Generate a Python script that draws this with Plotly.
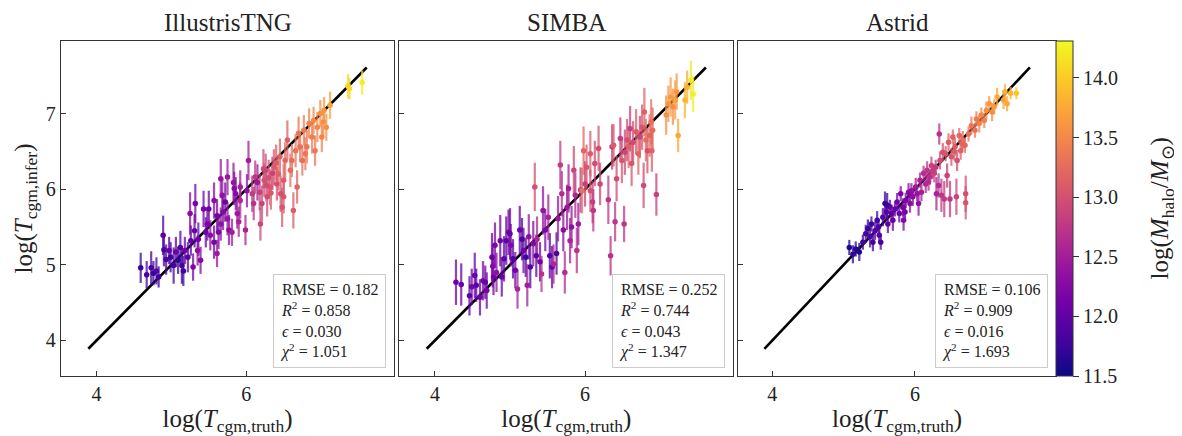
import plotly.graph_objects as go
from plotly.colors import sample_colorscale

# ---- IllustrisTNG: truth, inferred, 1-sigma, log halo mass
tng_truth = [4.59, 4.67, 4.73, 4.76, 4.80, 4.83, 4.89, 4.90, 4.93, 4.97, 4.99, 5.03, 5.06, 5.09, 5.12, 5.14,
             5.16, 5.18, 5.22, 5.25, 5.26, 5.29, 5.31, 5.32, 5.35, 5.36, 5.39, 5.43, 5.46, 5.48, 5.50, 5.52,
             5.57, 5.61, 5.63, 5.66, 5.69, 5.72, 5.75, 5.77, 5.81, 5.83, 5.86, 5.88, 5.92, 5.99, 6.01, 6.03,
             6.10, 6.15, 6.19, 6.23, 5.57, 5.61, 5.66, 5.68, 5.75, 5.84, 5.90, 5.92, 6.08, 6.18, 6.24, 6.26,
             6.28, 6.32, 6.35, 6.37, 6.41, 6.45, 6.48, 6.50, 6.52, 6.55, 6.59, 6.63, 6.66, 6.68, 6.70, 6.75,
             6.77, 6.81, 6.84, 6.88, 6.90, 6.92, 6.95, 6.99, 7.01, 7.04, 7.07, 7.12, 7.36, 7.38, 7.55, 6.12,
             6.21, 6.46, 6.61, 6.72, 6.79, 7.03, 6.30, 6.33, 6.27, 6.40, 6.43, 6.50]
tng_infer = [4.96, 4.87, 4.96, 4.89, 4.92, 4.84, 5.39, 5.20, 5.07, 5.19, 5.10, 4.99, 5.17, 5.06, 5.23, 4.99,
             4.92, 5.19, 5.10, 5.68, 5.32, 4.97, 5.45, 5.81, 5.19, 5.34, 5.06, 5.74, 5.43, 5.54, 5.74, 5.39,
             5.30, 5.15, 5.43, 5.54, 5.70, 5.83, 5.61, 5.46, 5.43, 6.09, 5.94, 5.68, 5.85, 5.46, 5.98, 6.38,
             5.81, 6.09, 5.54, 6.27, 5.85, 5.65, 6.14, 5.92, 6.16, 6.01, 5.57, 6.03, 5.94, 5.96, 6.12, 6.25,
             5.90, 6.03, 6.21, 6.29, 6.07, 6.43, 5.76, 6.12, 6.38, 6.65, 6.25, 5.72, 6.51, 6.03, 6.74, 6.38,
             6.78, 6.56, 6.87, 6.69, 6.91, 6.51, 6.82, 7.00, 6.69, 7.04, 6.82, 7.11, 7.36, 7.33, 7.41, 6.16,
             5.81, 5.94, 6.38, 6.56, 6.47, 6.89, 6.15, 5.95, 6.05, 6.35, 6.20, 5.90]
tng_err = [0.20, 0.18, 0.22, 0.16, 0.18, 0.14, 0.26, 0.22, 0.20, 0.18, 0.20, 0.24, 0.20, 0.18, 0.22, 0.24,
           0.20, 0.18, 0.20, 0.28, 0.20, 0.18, 0.22, 0.26, 0.20, 0.22, 0.18, 0.24, 0.20, 0.22, 0.24, 0.20,
           0.22, 0.18, 0.22, 0.22, 0.24, 0.26, 0.22, 0.20, 0.18, 0.26, 0.22, 0.20, 0.24, 0.20, 0.22, 0.26,
           0.22, 0.24, 0.22, 0.26, 0.24, 0.22, 0.26, 0.22, 0.24, 0.22, 0.20, 0.22, 0.24, 0.24, 0.22, 0.22,
           0.26, 0.24, 0.22, 0.24, 0.22, 0.24, 0.26, 0.22, 0.24, 0.26, 0.22, 0.24, 0.22, 0.22, 0.22, 0.20,
           0.20, 0.22, 0.20, 0.22, 0.18, 0.20, 0.20, 0.18, 0.20, 0.18, 0.18, 0.18, 0.16, 0.14, 0.16, 0.22,
           0.24, 0.24, 0.22, 0.20, 0.22, 0.18, 0.24, 0.22, 0.22, 0.24, 0.22, 0.22]
tng_mass = [11.75, 11.85, 11.80, 11.70, 11.90, 11.75, 11.95, 11.80, 11.85, 12.00, 11.75, 11.80, 12.05, 11.70,
            11.90, 11.80, 11.75, 12.10, 11.95, 12.30, 12.00, 12.20, 12.05, 12.15, 12.35, 12.10, 12.25, 12.15,
            12.05, 12.20, 12.10, 12.30, 12.15, 12.45, 12.20, 12.35, 12.25, 12.10, 12.40, 12.30, 12.50, 12.40,
            12.25, 12.45, 12.60, 12.55, 12.35, 12.50, 12.70, 12.45, 12.90, 12.95, 12.30, 12.15, 12.40, 12.35,
            12.45, 12.30, 12.55, 12.50, 12.80, 12.85, 13.00, 12.90, 12.95, 13.05, 12.85, 13.10, 13.00, 13.15,
            13.05, 13.10, 13.20, 13.15, 13.25, 13.10, 13.30, 13.20, 13.35, 13.30, 13.40, 13.35, 13.45, 13.40,
            13.50, 13.35, 13.50, 13.55, 13.45, 13.60, 13.55, 13.70, 14.05, 14.10, 14.25, 12.75, 12.90, 13.00,
            13.25, 13.30, 13.35, 13.55, 13.00, 13.05, 12.95, 13.10, 13.15, 13.05]
tng_stats = ["0.182", "0.858", "0.030", "1.051"]

# ---- SIMBA
simba_truth = [4.28, 4.35, 4.46, 4.49, 4.53, 4.55, 4.60, 4.64, 4.67, 4.69, 4.76, 4.77, 4.78, 4.80, 4.82, 4.87,
               4.89, 4.92, 4.95, 4.98, 5.00, 5.01, 5.04, 5.07, 5.10, 5.13, 5.16, 5.18, 5.21, 5.23, 5.25, 5.27,
               5.31, 5.33, 5.35, 5.36, 5.40, 5.42, 5.44, 5.47, 5.51, 5.53, 5.56, 5.58, 5.62, 5.64, 5.67, 5.69,
               5.71, 5.73, 5.76, 5.78, 5.80, 5.82, 5.85, 5.87, 5.89, 5.91, 5.94, 5.98, 6.00, 6.02, 6.07, 6.11,
               6.13, 5.96, 6.07, 6.10, 6.18, 6.20, 6.31, 6.34, 6.36, 6.38, 6.40, 6.42, 6.47, 6.49, 6.52, 6.53,
               6.56, 6.58, 6.60, 6.62, 6.64, 6.68, 6.71, 6.73, 6.76, 6.78, 6.79, 6.81, 6.83, 6.86, 6.88, 6.89,
               6.90, 6.95, 7.08, 7.11, 7.14, 7.17, 7.20, 7.22, 7.24, 7.33, 7.36, 7.41, 7.44]
simba_infer = [4.77, 4.74, 4.59, 4.71, 4.86, 4.73, 4.57, 4.79, 4.77, 4.66, 5.10, 4.98, 4.84, 5.26, 4.90, 5.32,
               4.84, 5.08, 5.32, 5.43, 5.41, 5.26, 5.08, 4.93, 4.68, 5.46, 5.34, 5.19, 5.10, 4.73, 5.37, 4.97,
               5.28, 6.03, 5.12, 5.34, 5.04, 4.88, 5.72, 5.46, 5.63, 5.12, 4.97, 5.01, 5.15, 5.61, 6.32, 5.94,
               5.46, 4.90, 5.76, 6.01, 5.32, 5.50, 6.25, 5.92, 5.19, 5.54, 5.99, 6.51, 6.07, 6.29, 6.47, 5.72,
               6.34, 5.98, 5.98, 5.83, 6.54, 6.07, 5.86, 5.12, 6.56, 6.58, 5.57, 6.14, 6.67, 6.38, 5.54, 6.49,
               6.65, 6.56, 6.80, 6.34, 6.62, 6.76, 6.47, 6.69, 6.82, 6.05, 7.02, 6.65, 6.51, 6.71, 6.89, 6.51,
               6.78, 5.93, 6.98, 7.13, 7.22, 7.09, 7.18, 7.29, 6.71, 7.18, 7.35, 7.44, 7.26]
simba_err = [0.30, 0.28, 0.26, 0.24, 0.30, 0.22, 0.24, 0.26, 0.22, 0.24, 0.32, 0.28, 0.24, 0.30, 0.26, 0.34,
             0.26, 0.30, 0.32, 0.30, 0.34, 0.28, 0.26, 0.24, 0.26, 0.32, 0.28, 0.30, 0.26, 0.28, 0.30, 0.28,
             0.30, 0.32, 0.28, 0.30, 0.26, 0.24, 0.32, 0.28, 0.30, 0.30, 0.28, 0.26, 0.28, 0.30, 0.32, 0.30,
             0.28, 0.28, 0.30, 0.32, 0.30, 0.28, 0.32, 0.30, 0.30, 0.28, 0.30, 0.32, 0.30, 0.30, 0.30, 0.28,
             0.30, 0.30, 0.28, 0.28, 0.30, 0.28, 0.32, 0.26, 0.30, 0.28, 0.26, 0.30, 0.28, 0.30, 0.24, 0.30,
             0.28, 0.28, 0.30, 0.30, 0.28, 0.30, 0.28, 0.28, 0.30, 0.30, 0.32, 0.28, 0.30, 0.28, 0.30, 0.28,
             0.30, 0.28, 0.26, 0.24, 0.26, 0.24, 0.26, 0.24, 0.22, 0.24, 0.22, 0.26, 0.24]
simba_mass = [12.10, 12.05, 12.00, 12.15, 12.05, 11.95, 12.10, 12.20, 12.00, 12.15, 12.05, 12.25, 12.10, 12.20,
              12.35, 12.10, 12.05, 12.00, 11.95, 12.15, 12.05, 12.20, 11.90, 12.10, 12.55, 12.05, 11.85, 12.15,
              11.80, 12.50, 12.35, 11.90, 12.25, 13.00, 11.95, 12.60, 12.15, 12.70, 12.40, 12.20, 12.55, 11.90,
              12.10, 12.60, 11.85, 12.45, 12.80, 12.65, 12.30, 12.65, 12.45, 12.50, 12.55, 12.35, 12.90, 12.60,
              12.70, 12.45, 12.75, 13.20, 12.85, 13.05, 13.10, 12.75, 12.95, 13.30, 13.00, 12.80, 13.00, 12.90,
              12.75, 12.70, 12.85, 13.10, 12.75, 12.95, 12.80, 13.05, 12.75, 12.90, 13.00, 13.15, 12.85, 13.05,
              12.95, 13.10, 13.20, 12.90, 13.05, 12.95, 13.15, 13.25, 13.00, 13.20, 13.30, 13.15, 13.25, 12.85,
              13.55, 13.60, 13.65, 13.55, 13.70, 13.60, 13.75, 13.85, 13.80, 14.20, 14.25]
simba_stats = ["0.252", "0.744", "0.043", "1.347"]

# ---- Astrid
astrid_truth = [5.08, 5.13, 5.17, 5.22, 5.27, 5.31, 5.34, 5.37, 5.39, 5.41, 5.44, 5.47, 5.50, 5.52, 5.55, 5.58,
                5.60, 5.62, 5.65, 5.67, 5.69, 5.72, 5.75, 5.78, 5.80, 5.83, 5.84, 5.87, 5.91, 5.93, 5.95, 5.97,
                6.01, 6.05, 6.07, 6.09, 6.12, 6.15, 6.17, 6.21, 6.23, 6.27, 6.29, 6.30, 6.33, 6.34, 6.35, 6.37,
                6.39, 6.41, 6.43, 6.45, 6.47, 6.49, 6.51, 6.53, 6.56, 6.58, 6.59, 6.62, 6.64, 6.67, 6.70, 6.71,
                6.71, 6.75, 6.79, 6.84, 6.86, 6.90, 6.93, 6.97, 7.00, 7.04, 7.08, 7.11, 7.15, 7.24, 7.26, 7.29,
                7.34, 7.42, 5.61, 5.49, 5.86, 6.03, 6.19, 6.25, 6.55, 6.66]
astrid_infer = [5.23, 5.14, 5.21, 5.17, 5.30, 5.41, 5.48, 5.37, 5.54, 5.30, 5.45, 5.59, 5.39, 5.30, 5.63, 5.81,
                5.70, 5.54, 5.76, 5.68, 5.59, 5.74, 5.83, 5.68, 5.94, 5.76, 5.59, 5.85, 5.96, 5.81, 5.98, 5.90,
                6.03, 5.81, 6.12, 5.96, 6.21, 6.07, 6.25, 6.16, 6.31, 6.21, 6.29, 5.94, 6.05, 6.73, 6.38, 5.92,
                6.49, 5.87, 6.47, 6.18, 6.62, 5.87, 6.43, 6.69, 6.56, 5.90, 6.38, 6.71, 6.51, 6.65, 6.58, 5.94,
                5.82, 6.73, 6.84, 6.78, 6.93, 6.87, 6.98, 6.91, 7.04, 7.13, 7.02, 7.09, 7.22, 7.18, 7.29, 7.13,
                7.27, 7.27, 5.79, 5.50, 5.70, 5.94, 6.10, 6.24, 6.50, 6.60]
astrid_err = [0.10, 0.12, 0.10, 0.12, 0.10, 0.12, 0.12, 0.14, 0.10, 0.12, 0.12, 0.12, 0.10, 0.10, 0.12, 0.16,
              0.12, 0.12, 0.10, 0.12, 0.14, 0.10, 0.12, 0.12, 0.10, 0.12, 0.14, 0.10, 0.12, 0.12, 0.10, 0.12,
              0.12, 0.16, 0.10, 0.12, 0.10, 0.12, 0.12, 0.10, 0.12, 0.12, 0.10, 0.22, 0.16, 0.14, 0.12, 0.22,
              0.12, 0.24, 0.10, 0.16, 0.12, 0.24, 0.12, 0.10, 0.12, 0.24, 0.14, 0.10, 0.12, 0.12, 0.10, 0.24,
              0.22, 0.10, 0.12, 0.10, 0.10, 0.12, 0.10, 0.10, 0.12, 0.10, 0.12, 0.10, 0.12, 0.12, 0.10, 0.10,
              0.08, 0.08, 0.16, 0.10, 0.12, 0.10, 0.12, 0.10, 0.12, 0.10]
astrid_mass = [11.60, 11.70, 11.65, 11.60, 11.75, 11.80, 11.70, 11.85, 11.75, 11.80, 11.90, 11.80, 11.95, 11.85,
               11.90, 11.70, 11.95, 12.00, 12.05, 11.95, 12.10, 12.05, 12.15, 12.10, 12.20, 12.15, 12.25, 12.20,
               12.25, 12.30, 12.35, 12.30, 12.45, 12.35, 12.55, 12.50, 12.65, 12.60, 12.75, 12.70, 12.85, 12.90,
               12.80, 12.55, 12.65, 12.70, 12.95, 12.75, 13.00, 12.80, 13.05, 12.85, 13.10, 12.75, 13.05, 13.15,
               13.10, 12.90, 13.00, 13.20, 13.15, 13.25, 13.20, 13.00, 13.05, 13.30, 13.35, 13.30, 13.40, 13.45,
               13.50, 13.45, 13.55, 13.60, 13.55, 13.65, 13.75, 13.70, 13.80, 13.75, 13.85, 13.95, 11.75, 11.85,
               12.10, 12.40, 12.65, 12.80, 13.10, 13.20]
astrid_stats = ["0.106", "0.909", "0.016", "1.693"]

line_ends = [3.89, 7.61]
mass_ticks = [11.5, 12.0, 12.5, 13.0, 13.5, 14.0]

CMIN, CMAX = 11.5, 14.31
FONT = "Liberation Serif"
INK = "#222222"

panels = [
    ("IllustrisTNG", tng_truth, tng_infer, tng_err, tng_mass, tng_stats),
    ("SIMBA", simba_truth, simba_infer, simba_err, simba_mass, simba_stats),
    ("Astrid", astrid_truth, astrid_infer, astrid_err, astrid_mass, astrid_stats),
]
domains = [[0.0, 0.3347], [0.3400, 0.6757], [0.6807, 1.0]]

fig = go.Figure()

for i, (name, xt, yi, er, ms, st) in enumerate(panels):
    n = "" if i == 0 else str(i + 1)
    xa, ya = "x" + n, "y" + n

    # 1:1 line
    fig.add_trace(go.Scatter(x=line_ends, y=line_ends, mode="lines",
                             line=dict(color="black", width=2.6),
                             showlegend=False, hoverinfo="skip", xaxis=xa, yaxis=ya))

    # error bars, grouped by colour
    groups = {}
    for x0, y0, e0, m0 in zip(xt, yi, er, ms):
        c = sample_colorscale("Plasma", [(m0 - CMIN) / (CMAX - CMIN)])[0]
        gx, gy = groups.setdefault(c, ([], []))
        gx += [x0, x0, None]
        gy += [y0 - e0, y0 + e0, None]
    for c, (gx, gy) in groups.items():
        fig.add_trace(go.Scatter(x=gx, y=gy, mode="lines", line=dict(color=c, width=2.2),
                                 opacity=0.75, showlegend=False, hoverinfo="skip",
                                 xaxis=xa, yaxis=ya))

    fig.add_trace(go.Scatter(x=xt, y=yi, mode="markers",
                             marker=dict(size=5.5, color=ms, coloraxis="coloraxis"),
                             showlegend=False, xaxis=xa, yaxis=ya))

    axis_common = dict(showline=True, mirror=True, linecolor="#333333", linewidth=1.3,
                       ticks="inside", ticklen=5, tickcolor="#333333", showgrid=False,
                       zeroline=False, automargin=False,
                       tickfont=dict(family=FONT, size=20, color=INK))
    fig.layout["xaxis" + n] = dict(
        axis_common, domain=domains[i], anchor=ya, range=[3.525, 7.975], tickvals=[4, 6],
        title=dict(text="log(<i>T</i><sub>cgm,truth</sub>)", standoff=2,
                   font=dict(family=FONT, size=25, color=INK)))
    fig.layout["yaxis" + n] = dict(
        axis_common, domain=[0, 1], anchor=xa, range=[3.53, 7.96], tickvals=[4, 5, 6, 7],
        showticklabels=(i == 0))
    if i == 0:
        fig.layout.yaxis.title = dict(text="log(<i>T</i><sub>cgm,infer</sub>)", standoff=6,
                                      font=dict(family=FONT, size=25, color=INK))

    fig.add_annotation(text=name, xref=xa + " domain", yref="paper", x=0.5, y=1.0,
                       xanchor="center", yanchor="bottom", yshift=3, showarrow=False,
                       font=dict(family=FONT, size=25, color=INK))

    box = ("RMSE = {}<br><i>R</i><sup>2</sup> = {}<br><i>ϵ</i> = {}<br><i>χ</i><sup>2</sup> = {}"
           .format(*st))
    fig.add_annotation(text=box, xref=xa + " domain", yref=ya + " domain", x=0.976, y=0.024,
                       xanchor="right", yanchor="bottom", align="left", showarrow=False,
                       bgcolor="white", bordercolor="#cccccc", borderwidth=1, borderpad=6,
                       font=dict(family=FONT, size=16, color=INK))

# colour bar title as a rotated label beside the bar
fig.add_annotation(text="log(<i>M</i><sub>halo</sub>/<i>M</i><sub>⊙</sub>)", xref="paper", yref="paper",
                   x=1.1065, y=0.5, xanchor="center", yanchor="middle", textangle=-90,
                   showarrow=False, font=dict(family=FONT, size=25, color=INK))

# the html page adds an 8 px body margin, so the figure is 8 px smaller
fig.update_layout(
    width=1174, height=428,
    margin=dict(l=53, r=126, t=33, b=60),
    paper_bgcolor="white", plot_bgcolor="white",
    coloraxis=dict(
        colorscale="Plasma", cmin=CMIN, cmax=CMAX,
        colorbar=dict(x=1.0, xanchor="left", xpad=0, ypad=0, y=0.5, yanchor="middle",
                      len=1, lenmode="fraction", thickness=17, thicknessmode="pixels",
                      outlinewidth=1, outlinecolor="#333333",
                      tickvals=mass_ticks, ticktext=["{:.1f}".format(v) for v in mass_ticks],
                      ticks="outside", ticklen=6, tickcolor="#333333",
                      tickfont=dict(family=FONT, size=20, color=INK)),
    ),
)

fig.write_html("out.html")
